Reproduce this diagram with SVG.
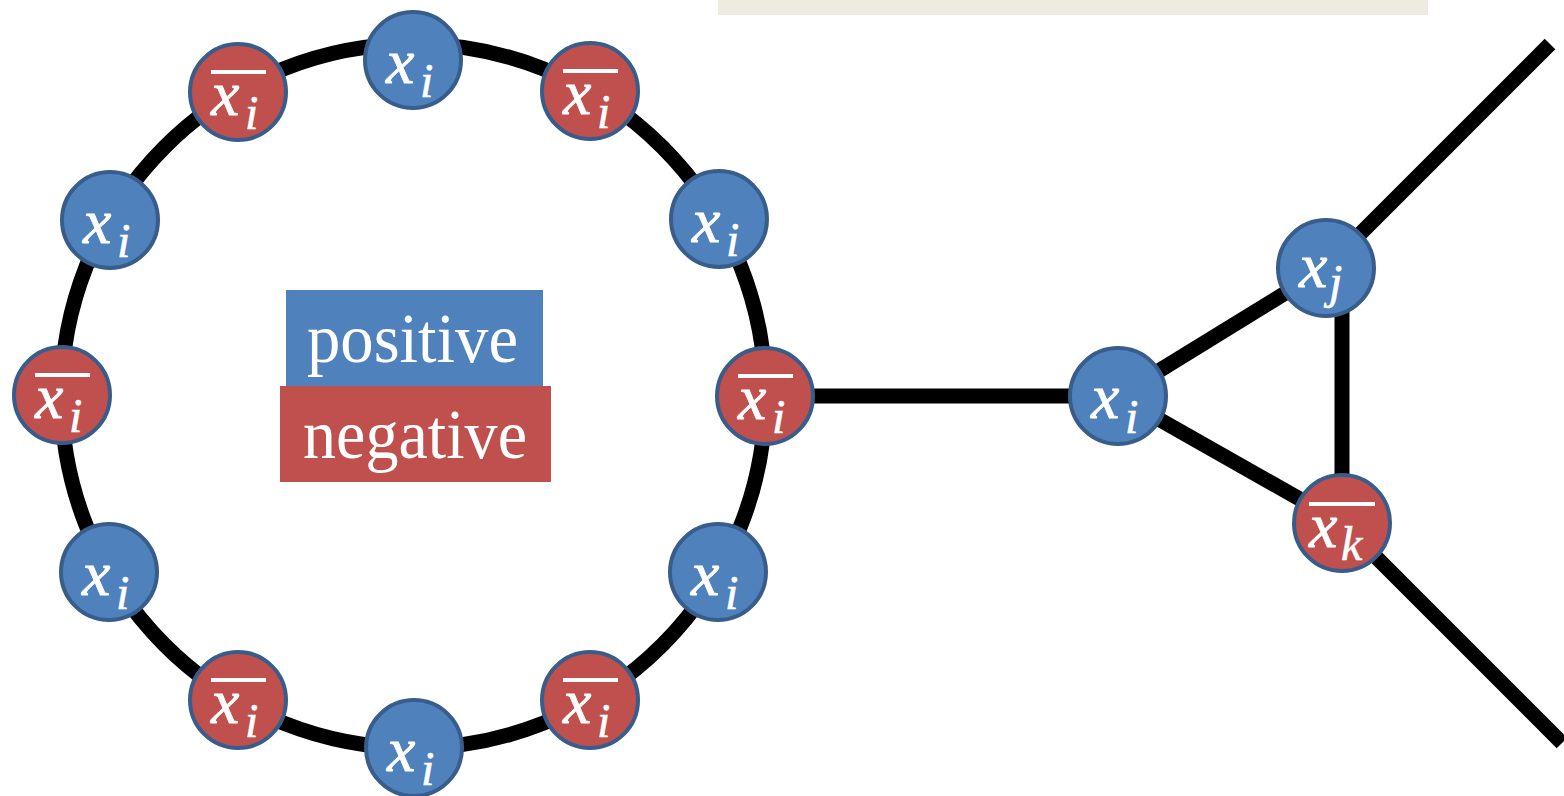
<svg xmlns="http://www.w3.org/2000/svg" width="1564" height="796" viewBox="0 0 1564 796">
<defs>
<style>
.pos{fill:#4F81BD;stroke:#385D8A;stroke-width:4}
.neg{fill:#C0504D;stroke:#385D8A;stroke-width:4}
.edge{stroke:#000;stroke-width:15;fill:none}
.v{font-family:"Liberation Serif","Times New Roman",serif;font-style:italic;fill:#fff;stroke:#fff;stroke-width:0.8;font-size:64px}
.s{font-family:"Liberation Serif","Times New Roman",serif;font-style:italic;fill:#fff;stroke:#fff;stroke-width:0.6;font-size:48px}
.bar{fill:#fff}
.leg{font-family:"Liberation Serif","Times New Roman",serif;fill:#fff;font-size:70px}
</style>
</defs>
<rect width="1564" height="796" fill="#fff"/>
<rect x="718" y="0" width="710" height="15" fill="#EEECE1"/>
<g id="connectors">
<circle class="edge" cx="413.5" cy="396" r="352" stroke-width="14"/>
<line class="edge" x1="765" y1="396" x2="1118" y2="396"/>
<line class="edge" x1="1118" y1="396" x2="1326" y2="268"/>
<line class="edge" x1="1118" y1="396" x2="1342" y2="523"/>
<line class="edge" x1="1342" y1="268" x2="1342" y2="523"/>
<line class="edge" x1="1326" y1="268" x2="1550" y2="44"/>
<line class="edge" x1="1342" y1="523" x2="1562" y2="743"/>
</g>
<g id="legend">
<rect x="286" y="290" width="257" height="96" fill="#4F81BD"/>
<rect x="280" y="386" width="271" height="96" fill="#C0504D"/>
<text class="leg" x="307" y="362" textLength="211" lengthAdjust="spacingAndGlyphs">positive</text>
<text class="leg" x="303" y="458" textLength="224" lengthAdjust="spacingAndGlyphs">negative</text>
</g>
<g id="n1"><circle class="pos" cx="413" cy="60" r="48"/><text class="v" x="386" y="83">x</text><text class="s" x="420" y="97">i</text></g>
<g id="n2"><circle class="neg" cx="590" cy="91" r="48"/><rect class="bar" x="563" y="69" width="55" height="4"/><text class="v" x="563" y="114">x</text><text class="s" x="597" y="128">i</text></g>
<g id="n3"><circle class="pos" cx="719" cy="219" r="48"/><text class="v" x="692" y="242">x</text><text class="s" x="726" y="256">i</text></g>
<g id="n4"><circle class="neg" cx="765" cy="396" r="48"/><rect class="bar" x="738" y="374" width="55" height="4"/><text class="v" x="738" y="419">x</text><text class="s" x="772" y="433">i</text></g>
<g id="n5"><circle class="pos" cx="718" cy="572" r="48"/><text class="v" x="691" y="595">x</text><text class="s" x="725" y="609">i</text></g>
<g id="n6"><circle class="neg" cx="590" cy="700" r="48"/><rect class="bar" x="563" y="678" width="55" height="4"/><text class="v" x="563" y="723">x</text><text class="s" x="597" y="737">i</text></g>
<g id="n7"><circle class="pos" cx="414" cy="748" r="48"/><text class="v" x="387" y="771">x</text><text class="s" x="421" y="785">i</text></g>
<g id="n8"><circle class="neg" cx="238" cy="700" r="48"/><rect class="bar" x="211" y="678" width="55" height="4"/><text class="v" x="211" y="723">x</text><text class="s" x="245" y="737">i</text></g>
<g id="n9"><circle class="pos" cx="109" cy="572" r="48"/><text class="v" x="82" y="595">x</text><text class="s" x="116" y="609">i</text></g>
<g id="n10"><circle class="neg" cx="62" cy="395" r="48"/><rect class="bar" x="35" y="373" width="55" height="4"/><text class="v" x="35" y="418">x</text><text class="s" x="69" y="432">i</text></g>
<g id="n11"><circle class="pos" cx="110" cy="220" r="48"/><text class="v" x="83" y="243">x</text><text class="s" x="117" y="257">i</text></g>
<g id="n12"><circle class="neg" cx="238" cy="92" r="48"/><rect class="bar" x="211" y="70" width="55" height="4"/><text class="v" x="211" y="115">x</text><text class="s" x="245" y="129">i</text></g>
<g id="xi"><circle class="pos" cx="1118" cy="396" r="48"/><text class="v" x="1091" y="418">x</text><text class="s" x="1125" y="433">i</text></g>
<g id="xj"><circle class="pos" cx="1326" cy="268" r="48"/><text class="v" x="1299" y="287">x</text><text class="s" x="1329" y="298">j</text></g>
<g id="xk"><circle class="neg" cx="1342" cy="523" r="48"/><rect class="bar" x="1309" y="502" width="66" height="4"/><text class="v" x="1309" y="547">x</text><text class="s" x="1341" y="560">k</text></g>
</svg>
